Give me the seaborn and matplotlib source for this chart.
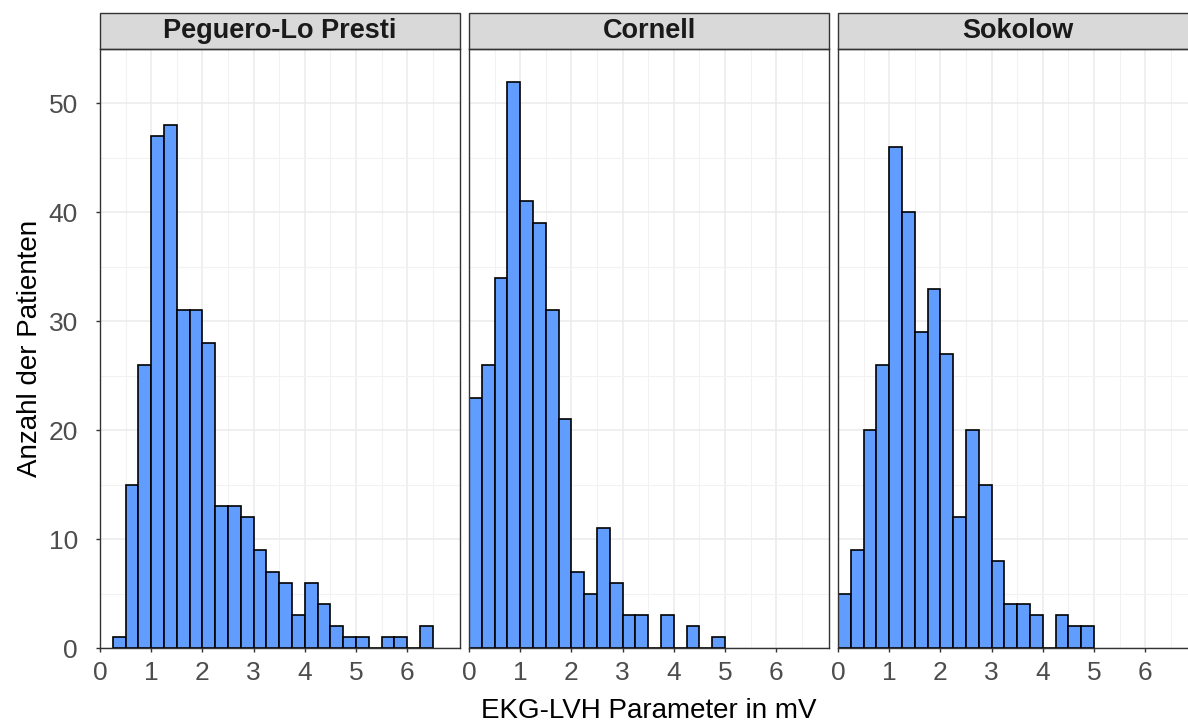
import numpy as np
import pandas as pd
import matplotlib
matplotlib.use("Agg")
import matplotlib.pyplot as plt
from matplotlib.patches import Rectangle
import seaborn as sns

# ---------------- data ----------------
panels = ["Peguero-Lo Presti", "Cornell", "Sokolow"]
bin_width = 0.25

peguero_start = 0.25
peguero_counts = [1, 15, 26, 47, 48, 31, 31, 28, 13, 13, 12, 9, 7, 6, 3, 6, 4, 2, 1, 1, 0, 1, 1, 0, 2]

cornell_start = 0.0
cornell_counts = [23, 26, 34, 52, 41, 39, 31, 21, 7, 5, 11, 6, 3, 3, 0, 3, 0, 2, 0, 1]

sokolow_start = 0.0
sokolow_counts = [5, 9, 20, 26, 46, 40, 29, 33, 27, 12, 20, 15, 8, 4, 4, 3, 0, 3, 2, 2]

x_ticks = [0, 1, 2, 3, 4, 5, 6]
y_ticks = [0, 10, 20, 30, 40, 50]
x_label = "EKG-LVH Parameter in mV"
y_label = "Anzahl der Patienten"

series = {
    "Peguero-Lo Presti": (peguero_start, peguero_counts),
    "Cornell": (cornell_start, cornell_counts),
    "Sokolow": (sokolow_start, sokolow_counts),
}

# ---------------- styling ----------------
sns.set_theme(style="white")
plt.rcParams["font.family"] = ["Liberation Sans", "DejaVu Sans"]

W, H = 1188, 726
fig = plt.figure(figsize=(W / 100, H / 100), dpi=100)

panel_lefts = [100, 469, 838]
panel_w = 360
panel_top, panel_bottom = 49, 648
strip_h = 36

bar_color = "#619CFF"
border_col = "#333333"
grid_col = "#EBEBEB"
tick_col = "#4D4D4D"

for i, name in enumerate(panels):
    left = panel_lefts[i]
    ax = fig.add_axes([left / W, 1 - panel_bottom / H, panel_w / W, (panel_bottom - panel_top) / H])
    start, counts = series[name]
    nb = len(counts)
    centers = start + bin_width * (np.arange(nb) + 0.5)
    df = pd.DataFrame({"x": centers, "n": counts})
    sns.histplot(data=df, x="x", weights="n", binwidth=bin_width,
                 binrange=(start, start + bin_width * nb), ax=ax,
                 color=bar_color, edgecolor="black", linewidth=1.2, alpha=1.0)
    ax.set_xlim(0, 7.03)
    ax.set_ylim(0, 55)
    ax.set_xlabel("")
    ax.set_ylabel("")
    ax.set_axisbelow(True)
    ax.set_xticks(x_ticks)
    ax.set_xticks(np.arange(0.5, 7.01, 1.0), minor=True)
    ax.set_yticks(y_ticks)
    ax.set_yticks([5, 15, 25, 35, 45, 55], minor=True)
    ax.grid(True, which="major", color=grid_col, linewidth=1.1)
    ax.grid(True, which="minor", color="#F2F2F2", linewidth=0.8)
    for sp in ax.spines.values():
        sp.set_visible(True)
        sp.set_color(border_col)
        sp.set_linewidth(1.0)
    ax.tick_params(axis="x", which="major", length=3, width=1.0, color=border_col,
                   labelsize=19, labelcolor=tick_col, pad=6, bottom=True)
    ax.tick_params(axis="x", which="minor", length=0)
    ax.tick_params(axis="y", which="minor", length=0)
    if i == 0:
        ax.tick_params(axis="y", which="major", length=3, width=1.0, color=border_col,
                       labelsize=19, labelcolor=tick_col, pad=13, left=True)
    else:
        ax.tick_params(axis="y", which="major", length=0, labelleft=False)
    # facet strip
    sh = strip_h / (panel_bottom - panel_top)
    ax.add_patch(Rectangle((0, 1), 1, sh, transform=ax.transAxes, clip_on=False,
                           facecolor="#D9D9D9", edgecolor=border_col, linewidth=1.0))
    ax.text(0.5, 1 + sh / 2, name, transform=ax.transAxes, ha="center", va="center",
            fontsize=19.5, fontweight="bold", color="#1A1A1A")

fig.text(30 / W, 1 - 348.5 / H, y_label, rotation=90, ha="center", va="center",
         fontsize=20, color="black")
fig.text(649 / W, 1.5 / H, x_label, ha="center", va="bottom", fontsize=20, color="black")

fig.savefig("out.png", dpi=100)
